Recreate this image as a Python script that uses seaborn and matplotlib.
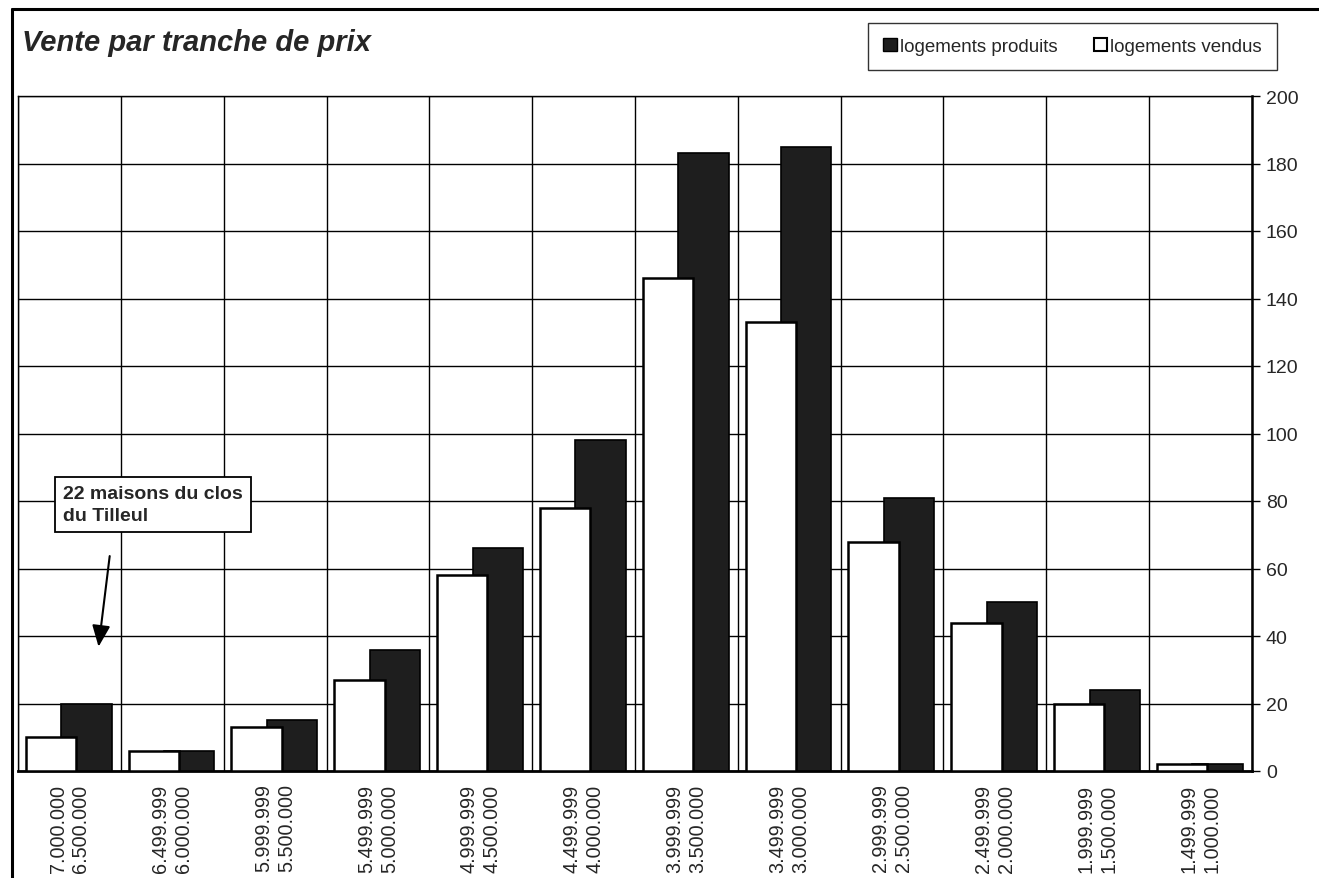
import matplotlib
matplotlib.use("Agg")
import matplotlib.pyplot as plt
import matplotlib.patches as mpatches
import matplotlib.lines as mlines
import numpy as np
import pandas as pd
import seaborn as sns

# price brackets (high / low bound), left to right
tranche_haut = ["7.000.000", "6.499.999", "5.999.999", "5.499.999", "4.999.999", "4.499.999",
                "3.999.999", "3.499.999", "2.999.999", "2.499.999", "1.999.999", "1.499.999"]
tranche_bas = ["6.500.000", "6.000.000", "5.500.000", "5.000.000", "4.500.000", "4.000.000",
               "3.500.000", "3.000.000", "2.500.000", "2.000.000", "1.500.000", "1.000.000"]
logements_vendus = [10, 6, 13, 27, 58, 78, 146, 133, 68, 44, 20, 2]
logements_produits = [20, 6, 15, 36, 66, 98, 183, 185, 81, 50, 24, 2]
y_ticks = [0, 20, 40, 60, 80, 100, 120, 140, 160, 180, 200]

sns.set_style("white")
plt.rcParams["font.family"] = ["Liberation Sans", "DejaVu Sans"]

W, H = 1319, 879
fig = plt.figure(figsize=(W / 100, H / 100), dpi=100, facecolor="white")
ax = fig.add_axes([18 / W, 1 - 772 / H, (1252 - 18) / W, (772 - 97) / H])

idx = np.arange(len(tranche_haut))
df = pd.DataFrame({
    "pos": idx,
    "vendus": logements_vendus,
    "produits": logements_produits,
})
df["pos_vendus"] = df["pos"] - 0.18
df["pos_produits"] = df["pos"] + 0.165

dark = "#1e1e1e"
# produits drawn first, vendus (white) sits in front
sns.barplot(data=df, x="pos_produits", y="produits", native_scale=True, width=0.49,
            color=dark, saturation=1, edgecolor="black", linewidth=1.2,
            errorbar=None, ax=ax, zorder=3)
sns.barplot(data=df, x="pos_vendus", y="vendus", native_scale=True, width=0.49,
            color="white", saturation=1, edgecolor="black", linewidth=1.8,
            errorbar=None, ax=ax, zorder=4)

ax.set_xlim(-0.5, len(idx) - 0.5)
ax.set_ylim(0, 200)
ax.set_xlabel("")
ax.set_ylabel("")

# x: labels at centres, tick marks + vertical grid at category bounds
ax.set_xticks(idx)
ax.set_xticklabels([f"{h}\n{b}" for h, b in zip(tranche_haut, tranche_bas)],
                   rotation=90, fontsize=14.3, va="top", ha="center", linespacing=1.25)
ax.set_xticks(np.arange(-0.5, len(idx), 1.0), minor=True)
ax.tick_params(axis="x", which="major", length=0, pad=9)
ax.tick_params(axis="x", which="minor", length=6, width=1, direction="out", color="black")
ax.grid(True, axis="x", which="minor", color="black", linewidth=1, zorder=0)

# y on the right side
ax.yaxis.tick_right()
ax.set_yticks(y_ticks)
ax.tick_params(axis="y", which="major", length=6, width=1, direction="out",
               labelsize=14, pad=4, color="black")
ax.grid(True, axis="y", which="major", color="black", linewidth=1, zorder=0)
ax.set_axisbelow(True)

for side in ["left", "top"]:
    ax.spines[side].set_linewidth(1)
    ax.spines[side].set_color("black")
ax.spines["right"].set_linewidth(1.8)
ax.spines["bottom"].set_linewidth(2)
ax.spines["right"].set_color("black")
ax.spines["bottom"].set_color("black")

# annotation box + arrow
ax.text(-0.06, 84.8, "22 maisons du clos\ndu Tilleul", fontsize=14, fontweight="bold",
        ha="left", va="top", zorder=6, linespacing=1.4,
        bbox=dict(boxstyle="square,pad=0.4", facecolor="white", edgecolor="black", linewidth=1.3))
ax.annotate("", xy=(0.28, 36), xytext=(0.395, 64.5),
            arrowprops=dict(arrowstyle="-|>,head_length=1.3,head_width=0.55",
                            color="black", linewidth=1.5), zorder=6)

# title
fig.text(22 / W, 1 - 43 / H, "Vente par tranche de prix", fontsize=21,
         fontweight="bold", fontstyle="italic", ha="left", va="center")

# legend
handles = [
    mpatches.Patch(facecolor=dark, edgecolor="black", label="logements produits"),
    mpatches.Patch(facecolor="white", edgecolor="black", linewidth=1.5, label="logements vendus"),
]
leg = fig.legend(handles=handles, loc="upper right", bbox_to_anchor=(1277 / W, 1 - 24 / H),
                 ncol=2, fontsize=13.5, frameon=True, fancybox=False, handlelength=0.7,
                 handleheight=0.7, handletextpad=0.2, columnspacing=1.9,
                 borderpad=0.8, borderaxespad=0)
leg.get_frame().set_edgecolor("black")
leg.get_frame().set_linewidth(1)

# outer frame of the chart (top and left edges)
fig.add_artist(mlines.Line2D([12 / W, 12 / W], [0, 1 - 10 / H], transform=fig.transFigure,
                             color="black", linewidth=2.2))
fig.add_artist(mlines.Line2D([12 / W, 1], [1 - 10 / H, 1 - 10 / H], transform=fig.transFigure,
                             color="black", linewidth=2.2))

fig.savefig("out.png", dpi=100, facecolor="white")
